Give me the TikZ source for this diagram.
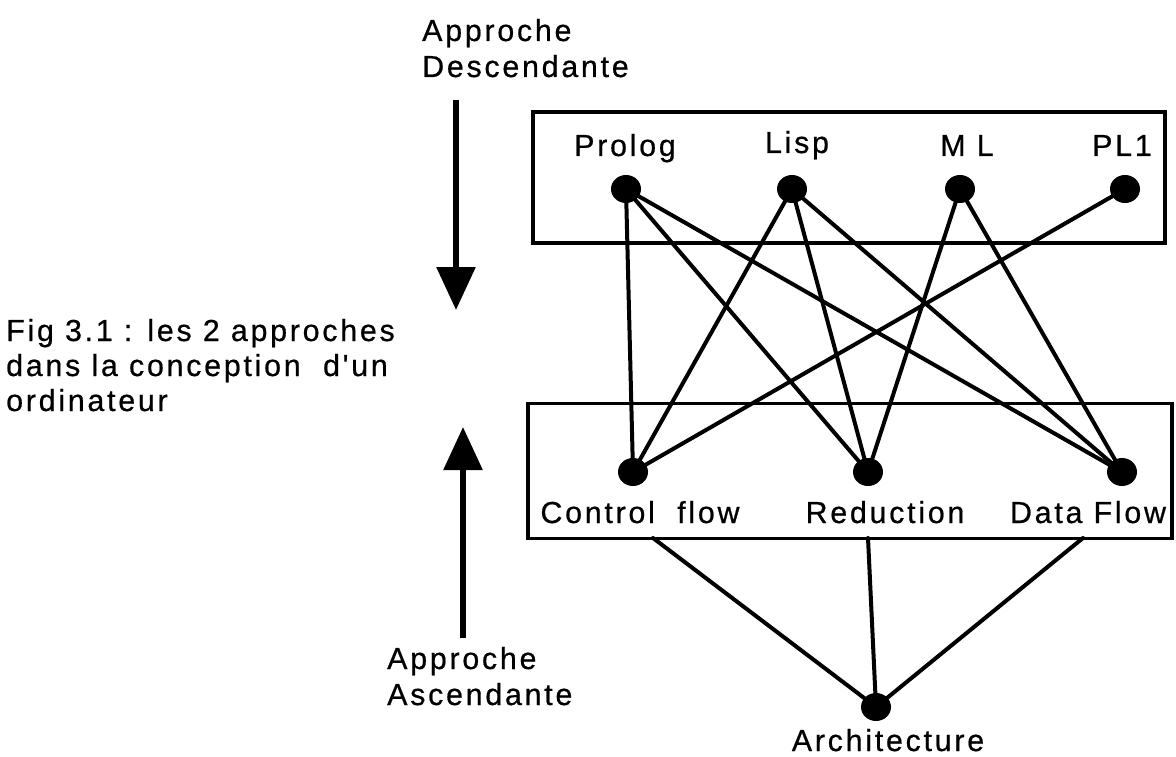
\documentclass[tikz,border=0pt]{standalone}
\usepackage{fontspec}
\newfontfamily\lblfont{Liberation Sans}[LetterSpace=9,FakeBold=0.6]
\usetikzlibrary{arrows.meta}
\tikzset{
  txt/.style={font=\lblfont\fontsize{30.4}{36}\selectfont, inner sep=0pt, anchor=base},
  txtl/.style={txt, anchor=base west},
  dot/.style={ellipse, fill=black, draw=none, minimum width=30pt, minimum height=28pt, inner sep=0pt},
  box/.style={draw=black, line width=3.5pt, inner sep=0pt},
  link/.style={line width=4pt, line cap=round},
  bigarrow/.style={line width=6pt, -{Triangle[length=43pt,width=38pt]}}
}
\usetikzlibrary{shapes.geometric}
\begin{document}
\begin{tikzpicture}[x=1pt,y=-1pt]
\useasboundingbox (0,0) rectangle (1176,757);

% the two layers
\node[box, minimum width=632pt, minimum height=131pt] (langbox) at (849,177.5) {};
\node[box, minimum width=644pt, minimum height=135pt] (modelbox) at (850,471) {};

% language labels
\node[txt] (lprolog) at (625,156) {Prolog};
\node[txt] (llisp) at (797,153) {Lisp};
\node[txt] (lml) at (967,156) {M L};
\node[txt] (lpl) at (1122,156) {PL1};

% model labels
\node[txt] (lcf) at (640,523) {Control~~flow};
\node[txt] (lred) at (885,523) {Reduction};
\node[txt] (ldf) at (1088,523) {Data Flow};
\node[txt] (larch) at (888,751) {Architecture};

% language to model links
\node[dot] (prolog) at (626,189) {};
\node[dot] (lisp) at (792,189) {};
\node[dot] (ml) at (960,189) {};
\node[dot] (pl1) at (1125,189) {};
\node[dot] (cf) at (633,472) {};
\node[dot] (red) at (868,472) {};
\node[dot] (df) at (1122,472) {};
\node[dot] (arch) at (876,707) {};

\draw[link] (prolog.center) -- (cf.center);
\draw[link] (prolog.center) -- (red.center);
\draw[link] (prolog.center) -- (df.center);
\draw[link] (lisp.center) -- (cf.center);
\draw[link] (lisp.center) -- (red.center);
\draw[link] (lisp.center) -- (df.center);
\draw[link] (ml.center) -- (red.center);
\draw[link] (ml.center) -- (df.center);
\draw[link] (pl1.center) -- (cf.center);

% model layer to architecture
\coordinate (cfout) at (653,538);
\coordinate (redout) at (868,538);
\coordinate (dfout) at (1083,538);
\draw[link] (cfout) -- (arch.center);
\draw[link] (redout) -- (arch.center);
\draw[link] (dfout) -- (arch.center);

% top-down approach
\node[txtl] (tdA) at (422,41) {Approche};
\node[txtl] (tdB) at (422,77) {Descendante};
\coordinate (tdstart) at (456,100);
\coordinate (tdend) at (456,310);
\draw[bigarrow] (tdstart) -- (tdend);

% bottom-up approach
\coordinate (bustart) at (463,638);
\coordinate (buend) at (463,427);
\draw[bigarrow] (bustart) -- (buend);
\node[txtl] (buA) at (387,669) {Approche};
\node[txtl] (buB) at (387,705) {Ascendante};

% caption
\node[txtl] (cap1) at (6,341) {Fig 3.1 : les 2 approches};
\node[txtl] (cap2) at (6,376) {dans la conception~~d'un};
\node[txtl] (cap3) at (6,411) {ordinateur};
\end{tikzpicture}
\end{document}
